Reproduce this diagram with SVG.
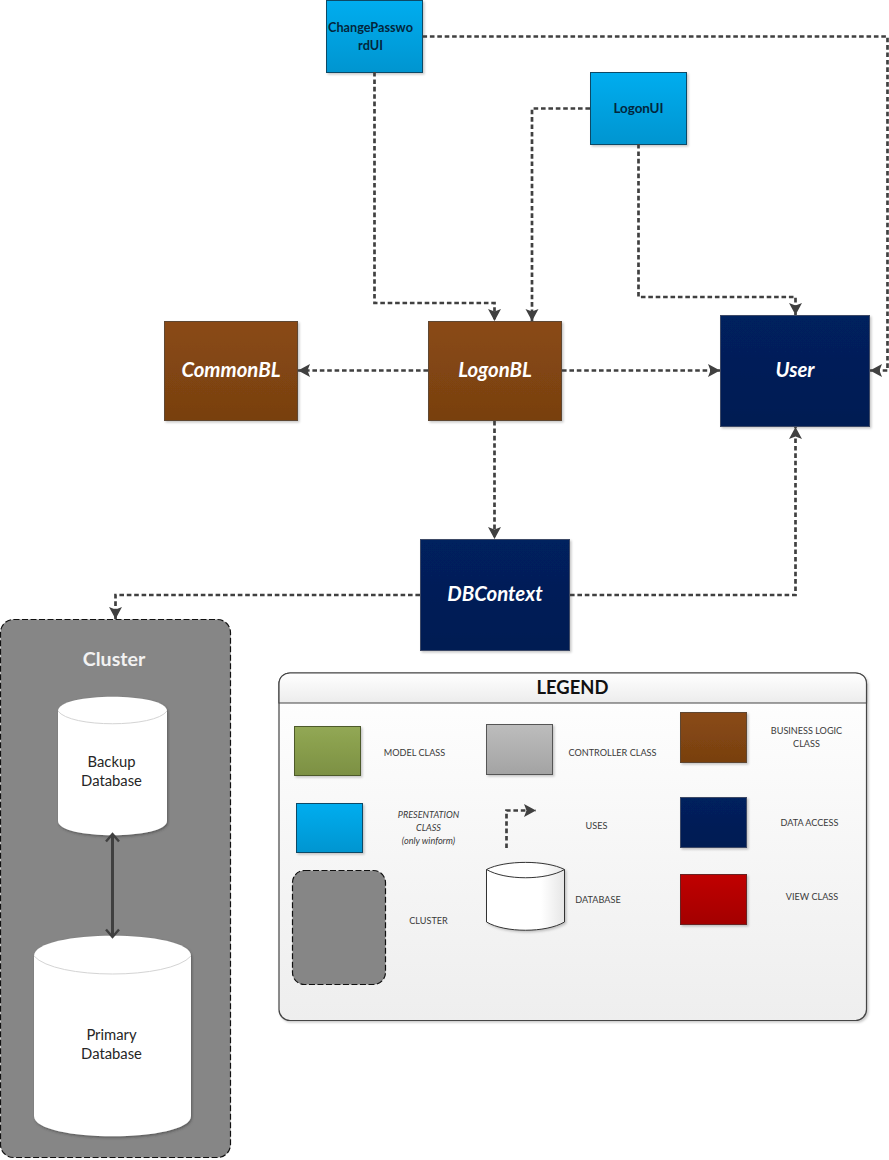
<svg xmlns="http://www.w3.org/2000/svg" width="889" height="1160" viewBox="0 0 889 1160">
<style>
text{font-family:Lato,"Open Sans",sans-serif;text-anchor:middle}
.box{stroke-width:1}
.bl{fill:url(#gBrown);stroke:#5e4630}
.da{fill:url(#gNavy);stroke:#3c4a66}
.ui{fill:url(#gBlue);stroke:#0f4a66}
.title{font-size:20.4px;font-weight:700;font-style:italic;fill:#fff}
.uit{font-size:12.7px;font-weight:700;fill:#03263c}
.uit2{font-size:13.4px;font-weight:700;fill:#03263c}
.lg{font-size:9.1px;fill:#3a3a3a}
.db{font-size:14.8px;fill:#262626}
.conn{fill:none;stroke:#404040;stroke-width:2.7;stroke-dasharray:4.6 2.8}
.cl{fill:#868686;stroke:#111;stroke-width:1.2;stroke-dasharray:6 2.5}
.cyl{fill:#fff;filter:url(#sh2)}
.cyl2{fill:none;stroke:#d4d4d4;stroke-width:1}
</style>
<defs>
<linearGradient id="gBrown" x1="0" y1="0" x2="0" y2="1"><stop offset="0" stop-color="#8a4a14"/><stop offset="1" stop-color="#784010"/></linearGradient>
<linearGradient id="gNavy" x1="0" y1="0" x2="0" y2="1"><stop offset="0" stop-color="#00205e"/><stop offset="1" stop-color="#001d52"/></linearGradient>
<linearGradient id="gBlue" x1="0" y1="0" x2="0" y2="1"><stop offset="0" stop-color="#00adef"/><stop offset="1" stop-color="#0095d0"/></linearGradient>
<linearGradient id="gGreen" x1="0" y1="0" x2="0" y2="1"><stop offset="0" stop-color="#92a854"/><stop offset="1" stop-color="#7c9043"/></linearGradient>
<linearGradient id="gGray" x1="0" y1="0" x2="0" y2="1"><stop offset="0" stop-color="#bdbdbd"/><stop offset="1" stop-color="#a3a3a3"/></linearGradient>
<linearGradient id="gRed" x1="0" y1="0" x2="0" y2="1"><stop offset="0" stop-color="#c00000"/><stop offset="1" stop-color="#a30000"/></linearGradient>
<linearGradient id="gPanel" x1="0" y1="0" x2="0" y2="1"><stop offset="0" stop-color="#fff"/><stop offset="1" stop-color="#eeeeee"/></linearGradient>
<linearGradient id="gHead" x1="0" y1="0" x2="0" y2="1"><stop offset="0" stop-color="#fff"/><stop offset="1" stop-color="#ececec"/></linearGradient>
<linearGradient id="gCyl" x1="0" y1="0" x2="1" y2="0"><stop offset="0" stop-color="#fff"/><stop offset=".7" stop-color="#fff"/><stop offset="1" stop-color="#e6e6e6"/></linearGradient>
<filter id="sh" x="-10%" y="-10%" width="125%" height="125%"><feDropShadow dx="1.5" dy="1.5" stdDeviation="1.2" flood-color="#000" flood-opacity=".22"/></filter>
<filter id="sh2" x="-10%" y="-10%" width="125%" height="125%"><feDropShadow dx="1" dy="1.5" stdDeviation=".8" flood-color="#333" flood-opacity=".5"/></filter>
<marker id="ah" markerUnits="userSpaceOnUse" markerWidth="14" markerHeight="14" refX="12" refY="7" orient="auto"><path d="M0 0.500L12 7L0 13.500L2.500 7Z" fill="#404040"/></marker>
<marker id="oa" markerUnits="userSpaceOnUse" markerWidth="18" markerHeight="16" refX="13" refY="8" orient="auto-start-reverse"><path d="M5.500 1.500L13 8L5.500 14.500" fill="none" stroke="#404040" stroke-width="2.400"/></marker>
</defs>
<rect width="889" height="1160" fill="#fff"/>

<g id="cluster"><rect class="cl" x="0.5" y="619.5" width="230" height="538" rx="13"/><text x="114" y="666" font-size="19.600" font-weight="700" fill="#f2f2f2">Cluster</text></g>
<g id="backup-db"><path class="cyl" d="M58 711C58 692 167 692 167 711V821C167 840 58 840 58 821Z"/><path class="cyl2" d="M58 711C70 728 155 728 167 711"/><text class="db" x="111.500" y="767">Backup</text><text class="db" x="111.500" y="786">Database</text></g>
<g id="primary-db"><path class="cyl" d="M34 956C34 929 191 929 191 956V1116C191 1143 34 1143 34 1116Z"/><path class="cyl2" d="M34 956C55 980 170 980 191 956"/><text class="db" x="111.500" y="1040">Primary</text><text class="db" x="111.500" y="1059">Database</text></g>

<g id="ChangePasswordUI"><rect class="box ui" x="326.500" y="0.500" width="96" height="72" filter="url(#sh)"/><text class="uit" x="370.500" y="32">ChangePasswo</text><text class="uit" x="370.500" y="50">rdUI</text></g>
<g id="LogonUI"><rect class="box ui" x="590.500" y="72.500" width="96" height="72" filter="url(#sh)"/><text class="uit2" x="638.500" y="113">LogonUI</text></g>
<g id="CommonBL"><rect class="box bl" x="164.500" y="321.500" width="133" height="99" filter="url(#sh)"/><text class="title" x="231" y="377">CommonBL</text></g>
<g id="LogonBL"><rect class="box bl" x="428.500" y="321.500" width="133" height="99" filter="url(#sh)"/><text class="title" x="495" y="377">LogonBL</text></g>
<g id="User"><rect class="box da" x="720.500" y="315.500" width="149" height="111" filter="url(#sh)"/><text class="title" x="795" y="377">User</text></g>
<g id="DBContext"><rect class="box da" x="420.500" y="539.500" width="149" height="111" filter="url(#sh)"/><text class="title" x="495" y="601">DBContext</text></g>

<g id="connectors">
<path class="conn" marker-end="url(#ah)" d="M374.500 72V303H494.500V321"/>
<path class="conn" marker-end="url(#ah)" d="M590 108.500H532V321"/>
<path class="conn" marker-end="url(#ah)" d="M638.500 144V297H795.500V315"/>
<path class="conn" marker-end="url(#ah)" d="M422.500 36.500H887.500V370.500H870"/>
<path class="conn" marker-end="url(#ah)" d="M428 370.500H298"/>
<path class="conn" marker-end="url(#ah)" d="M562 370.500H720"/>
<path class="conn" marker-end="url(#ah)" d="M494.500 421V539"/>
<path class="conn" marker-end="url(#ah)" d="M570 595H795.500V427"/>
<path class="conn" marker-end="url(#ah)" d="M420 595H115.500V619"/>
<path fill="none" stroke="#404040" stroke-width="3" marker-start="url(#oa)" marker-end="url(#oa)" d="M112.500 834V937"/>
</g>

<g id="legend">
<rect x="279" y="673" width="587.500" height="347.500" rx="11" fill="url(#gPanel)" stroke="#444" stroke-width="1.200" filter="url(#sh)"/>
<path d="M279 703V684C279 677 284 673 290 673H855.500C862 673 866.500 677 866.500 684V703Z" fill="url(#gHead)" stroke="#444" stroke-width="1.200"/>
<text x="572.500" y="694" font-size="18.400" font-weight="700" fill="#111">LEGEND</text>
</g>
<g id="legend-model"><rect class="box" x="294.500" y="726.500" width="66" height="49" fill="url(#gGreen)" stroke="#4d5a2c" filter="url(#sh)"/><text class="lg" x="414.500" y="756">MODEL CLASS</text></g>
<g id="legend-controller"><rect class="box" x="486.500" y="724.500" width="66" height="50" fill="url(#gGray)" stroke="#555" filter="url(#sh)"/><text class="lg" x="612.500" y="756">CONTROLLER CLASS</text></g>
<g id="legend-business"><rect class="box bl" x="680.500" y="712.500" width="66" height="50" filter="url(#sh)"/><text class="lg" x="806.500" y="734">BUSINESS LOGIC</text><text class="lg" x="806.500" y="747">CLASS</text></g>
<g id="legend-presentation"><rect class="box ui" x="296.500" y="803.500" width="66" height="49" filter="url(#sh)"/><text class="lg" x="428.500" y="818" font-style="italic">PRESENTATION</text><text class="lg" x="428.500" y="831" font-style="italic">CLASS</text><text class="lg" x="428.500" y="844" font-style="italic">(only winform)</text></g>
<g id="legend-uses"><path class="conn" marker-end="url(#ah)" d="M506.500 848V810.500H536"/><text class="lg" x="596.500" y="828.500">USES</text></g>
<g id="legend-data"><rect class="box da" x="680.500" y="797.500" width="66" height="50" filter="url(#sh)"/><text class="lg" x="809.500" y="826">DATA ACCESS</text></g>
<g id="legend-cluster"><rect class="cl" x="292.500" y="870.500" width="93" height="114" rx="12"/><text class="lg" x="428.500" y="924">CLUSTER</text></g>
<g id="legend-database"><path d="M486.500 869.500C505 860 546 860 564.500 869.500V922C546 933 505 933 486.500 922Z" fill="url(#gCyl)" stroke="#333" filter="url(#sh)"/><path d="M486.500 869.500C505 880.500 546 880.500 564.500 869.500" fill="none" stroke="#333"/><text class="lg" x="598" y="902.500">DATABASE</text></g>
<g id="legend-view"><rect class="box" x="680.500" y="874.500" width="66" height="50" fill="url(#gRed)" stroke="#6b2020" filter="url(#sh)"/><text class="lg" x="812" y="900">VIEW CLASS</text></g>
</svg>
